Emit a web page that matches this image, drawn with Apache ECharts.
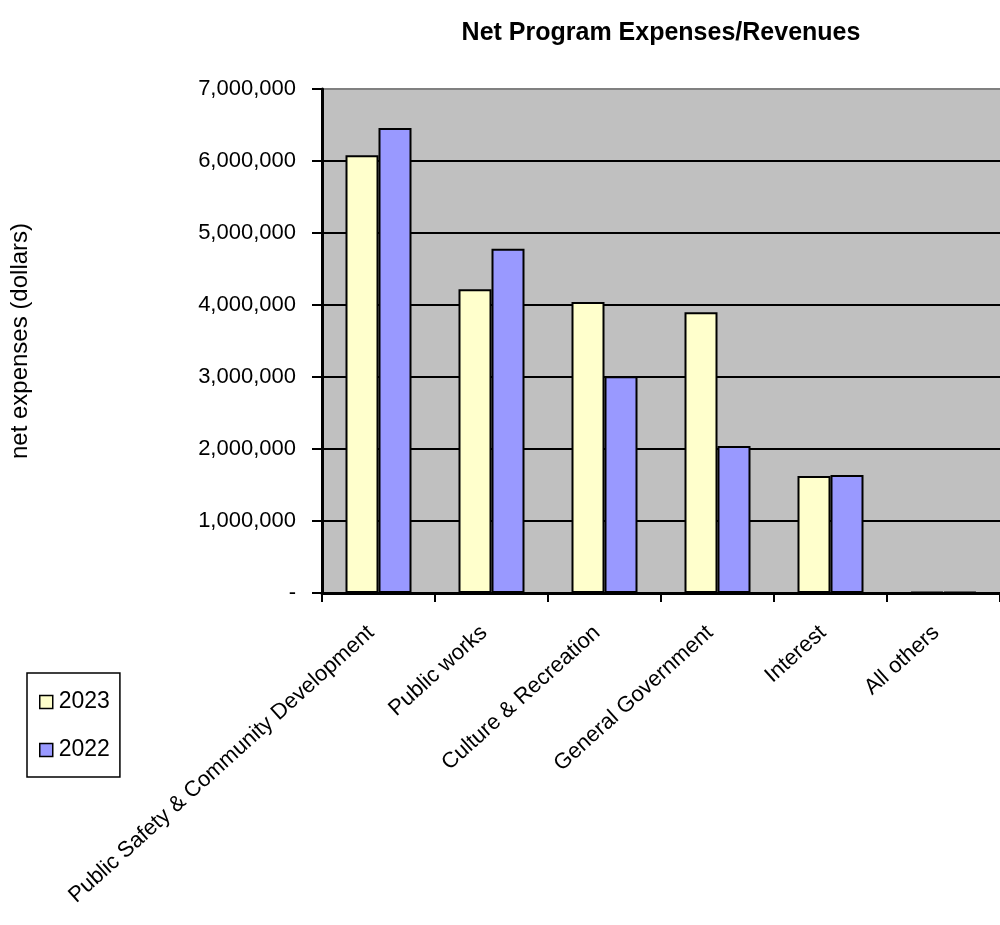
<!DOCTYPE html>
<html>
<head>
<meta charset="utf-8">
<script src="https://cdn.jsdelivr.net/npm/echarts@6/dist/echarts.min.js"></script>
<style>html,body{margin:0;padding:0;background:#fff}#c{width:1000px;height:925px}</style>
</head>
<body>
<div id="c"></div>
<script>
const categories = ['Public Safety & Community Development', 'Public works', 'Culture & Recreation', 'General Government', 'Interest', 'All others'];
const values2023 = [6080000, 4220000, 4040000, 3900000, 1625000, 15000];
const values2022 = [6460000, 4780000, 3010000, 2040000, 1640000, 15000];
const seriesNames = ['2023', '2022'];

const chart = echarts.init(document.getElementById('c'), null, {renderer: 'canvas'});
const font = '"Liberation Sans", Arial, sans-serif';
const black = '#000';
chart.setOption({
  animation: false,
  backgroundColor: '#fff',
  textStyle: {fontFamily: font},
  title: {
    text: 'Net Program Expenses/Revenues',
    left: 656, top: 16, textAlign: 'center',
    textStyle: {fontSize: 25, fontWeight: 'bold', color: black, fontFamily: font}
  },
  legend: {
    orient: 'vertical',
    left: 27, top: 673,
    padding: [16, 10, 14, 12],
    itemGap: 22,
    itemWidth: 13, itemHeight: 13,
    icon: 'rect',
    borderColor: black, borderWidth: 1.5,
    textStyle: {fontSize: 23, color: black, fontFamily: font, lineHeight: 26, padding: [0, 0, 0, 1]},
    itemStyle: {borderColor: black, borderWidth: 1.5},
    data: seriesNames
  },
  grid: {
    left: 317, top: 89, width: 686, height: 504,
    show: true, backgroundColor: '#c0c0c0', borderWidth: 0
  },
  xAxis: {
    type: 'category',
    data: categories,
    axisLine: {show: true, lineStyle: {color: black, width: 3}},
    axisTick: {show: true, alignWithLabel: false, length: 9, lineStyle: {color: black, width: 2}},
    axisLabel: {rotate: 42, interval: 0, margin: 30, padding: [0, 10, 0, 0], fontSize: 22, color: black, fontFamily: font}
  },
  yAxis: {
    type: 'value',
    min: 0, max: 7000000, interval: 1000000,
    name: 'net expenses (dollars)',
    nameLocation: 'middle',
    nameGap: 290,
    nameRotate: 90,
    nameTextStyle: {fontSize: 24, color: black, fontFamily: font},
    axisLine: {show: true, lineStyle: {color: black, width: 3}},
    axisTick: {show: true, length: 10, lineStyle: {color: black, width: 2}},
    axisLabel: {
      margin: 26, fontSize: 22, color: black, fontFamily: font,
      formatter: v => v === 0 ? '-' : v.toLocaleString('en-US')
    },
    splitLine: {show: true, lineStyle: {color: [black, black, black, black, black, black, black, '#808080'], width: 2}}
  },
  series: [
    {
      name: seriesNames[0], type: 'bar', data: values2023,
      barWidth: 33, barGap: '0%',
      itemStyle: {color: '#ffffcc', borderColor: black, borderWidth: 2}
    },
    {
      name: seriesNames[1], type: 'bar', data: values2022,
      barWidth: 33,
      itemStyle: {color: '#9999ff', borderColor: black, borderWidth: 2}
    }
  ]
});
</script>
</body>
</html>
